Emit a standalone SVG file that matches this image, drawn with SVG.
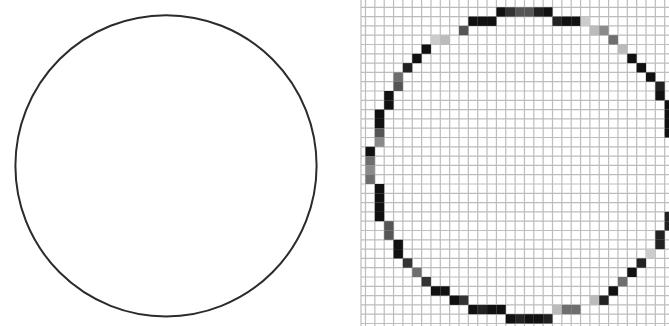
<svg xmlns="http://www.w3.org/2000/svg" width="669" height="326" viewBox="0 0 669 326">
<style>
.grid{stroke:#bdbdbd;stroke-width:1.2;fill:none}
.c1{fill:#111}.c2{fill:#222}.c3{fill:#333}.c4{fill:#555}.c5{fill:#6e6e6e}.c6{fill:#8a8a8a}.c7{fill:#bbb}.c8{fill:#ccc}
</style>
<rect width="669" height="326" fill="#fff"/>
<g id="circle">
<circle cx="166" cy="165.8" r="150.6" fill="none" stroke="#2b2b2b" stroke-width="2"/>
</g>
<g id="grid">
<path class="grid" d="M361 0V326M365.5 0V326M374.85 0V326M384.2 0V326M393.55 0V326M402.9 0V326M412.25 0V326M421.6 0V326M430.95 0V326M440.3 0V326M449.65 0V326M459 0V326M468.35 0V326M477.7 0V326M487.05 0V326M496.4 0V326M505.75 0V326M515.1 0V326M524.45 0V326M533.8 0V326M543.15 0V326M552.5 0V326M561.85 0V326M571.2 0V326M580.55 0V326M589.9 0V326M599.25 0V326M608.6 0V326M617.95 0V326M627.3 0V326M636.65 0V326M646 0V326M655.35 0V326M664.7 0V326"/>
<path class="grid" d="M361 7.3H669M361 16.6H669M361 25.9H669M361 35.2H669M361 44.5H669M361 53.8H669M361 63.1H669M361 72.4H669M361 81.7H669M361 91H669M361 100.3H669M361 109.6H669M361 118.9H669M361 128.2H669M361 137.5H669M361 146.8H669M361 156.1H669M361 165.4H669M361 174.7H669M361 184H669M361 193.3H669M361 202.6H669M361 211.9H669M361 221.2H669M361 230.5H669M361 239.8H669M361 249.1H669M361 258.4H669M361 267.7H669M361 277H669M361 286.3H669M361 295.6H669M361 304.9H669M361 314.2H669M361 323.5H669"/>
</g>
<g id="pixels" transform="translate(365.5 7.3) scale(9.35 9.3)">
<rect class="c1" x="14" y="0" width="1" height="1"/><rect class="c3" x="15" y="0" width="1" height="1"/><rect class="c4" x="16" y="0" width="1" height="1"/><rect class="c4" x="17" y="0" width="1" height="1"/><rect class="c2" x="18" y="0" width="1" height="1"/><rect class="c1" x="19" y="0" width="1" height="1"/>
<rect class="c1" x="11" y="1" width="1" height="1"/><rect class="c1" x="12" y="1" width="1" height="1"/><rect class="c1" x="13" y="1" width="1" height="1"/><rect class="c2" x="20" y="1" width="1" height="1"/><rect class="c1" x="21" y="1" width="1" height="1"/><rect class="c1" x="22" y="1" width="1" height="1"/><rect class="c8" x="23" y="1" width="1" height="1"/>
<rect class="c4" x="10" y="2" width="1" height="1"/><rect class="c7" x="24" y="2" width="1" height="1"/><rect class="c6" x="25" y="2" width="1" height="1"/>
<rect class="c8" x="7" y="3" width="1" height="1"/><rect class="c7" x="8" y="3" width="1" height="1"/><rect class="c5" x="26" y="3" width="1" height="1"/>
<rect class="c1" x="6" y="4" width="1" height="1"/><rect class="c7" x="27" y="4" width="1" height="1"/>
<rect class="c1" x="5" y="5" width="1" height="1"/><rect class="c1" x="28" y="5" width="1" height="1"/>
<rect class="c2" x="4" y="6" width="1" height="1"/><rect class="c1" x="29" y="6" width="1" height="1"/>
<rect class="c5" x="3" y="7" width="1" height="1"/><rect class="c1" x="30" y="7" width="1" height="1"/>
<rect class="c4" x="3" y="8" width="1" height="1"/><rect class="c2" x="31" y="8" width="1" height="1"/>
<rect class="c1" x="2" y="9" width="1" height="1"/><rect class="c1" x="31" y="9" width="1" height="1"/>
<rect class="c1" x="2" y="10" width="1" height="1"/><rect class="c1" x="32" y="10" width="1" height="1"/>
<rect class="c1" x="1" y="11" width="1" height="1"/><rect class="c1" x="32" y="11" width="1" height="1"/>
<rect class="c1" x="1" y="12" width="1" height="1"/><rect class="c1" x="32" y="12" width="1" height="1"/>
<rect class="c4" x="1" y="13" width="1" height="1"/><rect class="c1" x="32" y="13" width="1" height="1"/>
<rect class="c6" x="1" y="14" width="1" height="1"/>
<rect class="c1" x="0" y="15" width="1" height="1"/>
<rect class="c5" x="0" y="16" width="1" height="1"/>
<rect class="c6" x="0" y="17" width="1" height="1"/>
<rect class="c5" x="0" y="18" width="1" height="1"/>
<rect class="c1" x="1" y="19" width="1" height="1"/>
<rect class="c1" x="1" y="20" width="1" height="1"/>
<rect class="c1" x="1" y="21" width="1" height="1"/>
<rect class="c1" x="1" y="22" width="1" height="1"/><rect class="c2" x="32" y="22" width="1" height="1"/>
<rect class="c4" x="2" y="23" width="1" height="1"/><rect class="c2" x="32" y="23" width="1" height="1"/>
<rect class="c4" x="2" y="24" width="1" height="1"/><rect class="c2" x="31" y="24" width="1" height="1"/>
<rect class="c1" x="3" y="25" width="1" height="1"/><rect class="c2" x="31" y="25" width="1" height="1"/>
<rect class="c1" x="3" y="26" width="1" height="1"/><rect class="c8" x="30" y="26" width="1" height="1"/>
<rect class="c3" x="4" y="27" width="1" height="1"/><rect class="c2" x="29" y="27" width="1" height="1"/>
<rect class="c5" x="5" y="28" width="1" height="1"/><rect class="c1" x="28" y="28" width="1" height="1"/>
<rect class="c3" x="6" y="29" width="1" height="1"/><rect class="c5" x="27" y="29" width="1" height="1"/>
<rect class="c1" x="7" y="30" width="1" height="1"/><rect class="c1" x="8" y="30" width="1" height="1"/><rect class="c1" x="26" y="30" width="1" height="1"/>
<rect class="c1" x="9" y="31" width="1" height="1"/><rect class="c3" x="10" y="31" width="1" height="1"/><rect class="c7" x="24" y="31" width="1" height="1"/><rect class="c2" x="25" y="31" width="1" height="1"/>
<rect class="c1" x="11" y="32" width="1" height="1"/><rect class="c2" x="12" y="32" width="1" height="1"/><rect class="c1" x="13" y="32" width="1" height="1"/><rect class="c1" x="14" y="32" width="1" height="1"/><rect class="c7" x="20" y="32" width="1" height="1"/><rect class="c5" x="21" y="32" width="1" height="1"/><rect class="c5" x="22" y="32" width="1" height="1"/>
<rect class="c1" x="15" y="33" width="1" height="1"/><rect class="c2" x="16" y="33" width="1" height="1"/><rect class="c1" x="17" y="33" width="1" height="1"/><rect class="c1" x="18" y="33" width="1" height="1"/><rect class="c2" x="19" y="33" width="1" height="1"/>
</g>
</svg>
